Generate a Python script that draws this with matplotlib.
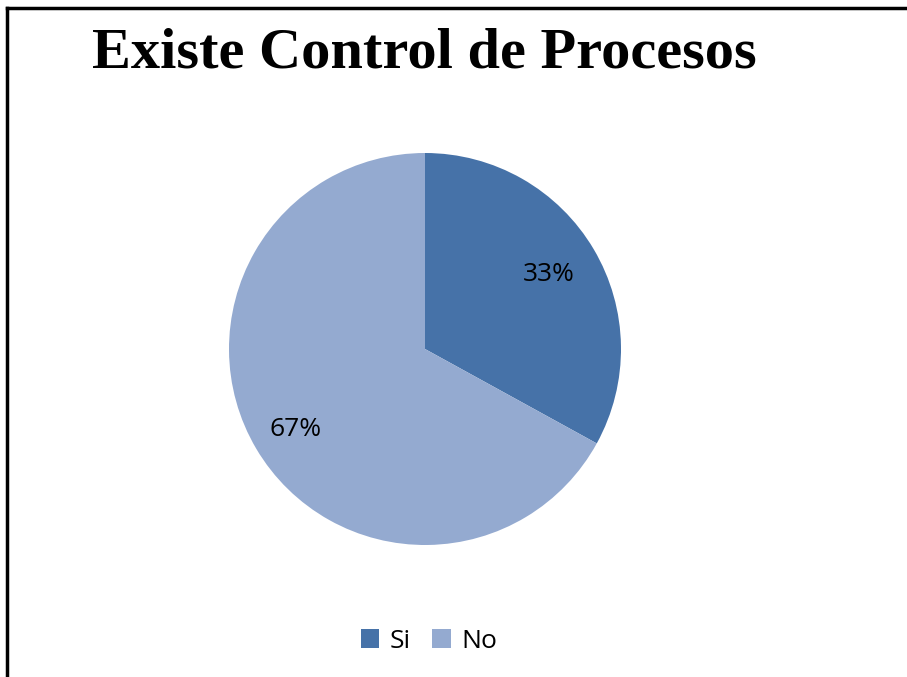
import matplotlib.pyplot as plt
from matplotlib.lines import Line2D

labels = ['Si', 'No']
values = [33, 67]
colors = ['#4672A8', '#94AAD0']
pct_labels = ['33%', '67%']

fig = plt.figure(figsize=(9.07, 6.77), dpi=100)

# frame lines (top and left only, as in the screenshot)
fig.add_artist(Line2D([7/907, 1], [1 - 8/677, 1 - 8/677], color='black', lw=2.5, transform=fig.transFigure))
fig.add_artist(Line2D([7/907, 7/907], [0, 1 - 8/677], color='black', lw=2.5, transform=fig.transFigure))

fig.text(92/907, 1 - 53/677, 'Existe Control de Procesos', family='Liberation Serif',
         fontweight='bold', fontsize=42, va='center', ha='left')

# pie: center (425, 349), radius ~196 px
r = 196
ax = fig.add_axes([(425 - r)/907, 1 - (349 + r)/677, 2*r/907, 2*r/677])
wedges, _ = ax.pie(values, colors=colors, startangle=90, counterclock=False,
                   wedgeprops=dict(linewidth=0))
ax.set_xlim(-1, 1)
ax.set_ylim(-1, 1)
ax.set_aspect('equal')

ax.text(0.633, 0.378, pct_labels[0], fontsize=19, family='Open Sans', ha='center', va='center')
ax.text(-0.658, -0.413, pct_labels[1], fontsize=19, family='Open Sans', ha='center', va='center')

fig.legend(wedges, labels, loc='center', bbox_to_anchor=(429/907, 1 - 641/677), ncol=2,
           frameon=False, prop={'family': 'Open Sans', 'size': 19},
           handlelength=0.7, handleheight=0.7, handletextpad=0.4, columnspacing=0.8)

fig.savefig('out.png', dpi=100)
